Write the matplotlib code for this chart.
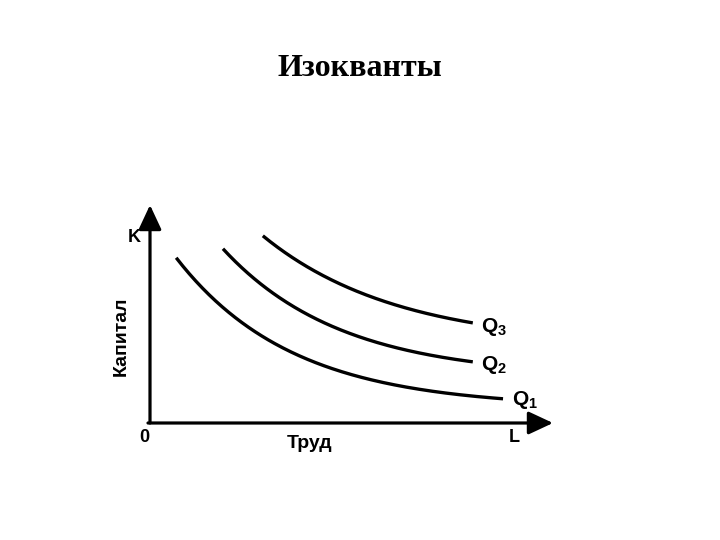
import matplotlib
matplotlib.use("Agg")
import matplotlib.pyplot as plt
import numpy as np

plt.rcParams['mathtext.fontset'] = 'custom'
plt.rcParams['mathtext.rm'] = 'Liberation Sans:bold'
plt.rcParams['mathtext.bf'] = 'Liberation Sans:bold'

title = "Изокванты"
y_label = "Капитал"
x_label = "Труд"
curve_labels = ["Q$_1$", "Q$_2$", "Q$_3$"]

q1_x = [0.65, 1.74, 2.98, 3.72, 4.96, 6.20, 7.44, 8.76]
q1_y = [7.61, 5.32, 3.81, 3.12, 2.29, 1.61, 1.28, 1.19]
q2_x = [1.81, 2.98, 4.22, 6.20, 8.01]
q2_y = [7.98, 6.10, 4.63, 3.44, 2.80]
q3_x = [2.80, 3.72, 4.96, 6.20, 8.01]
q3_y = [8.58, 7.39, 6.15, 5.37, 4.59]


def smooth(xs, ys, n=200):
    # smooth convex rendering through the read points:
    # best least-squares of y = a + b/(x + c) or y = a + b*exp(-x/c)
    x = np.asarray(xs, float)
    y = np.asarray(ys, float)
    bases = [lambda t, c: 1.0 / (t + c), lambda t, c: np.exp(-t / c)]
    ranges = [np.linspace(-x[0] + 0.05, 15, 2000), np.linspace(0.3, 20, 2000)]
    best = None
    for f, cs in zip(bases, ranges):
        for c in cs:
            A = np.column_stack([np.ones_like(x), f(x, c)])
            coef, *_ = np.linalg.lstsq(A, y, rcond=None)
            err = np.sum((A @ coef - y) ** 2)
            if best is None or err < best[0]:
                best = (err, f, c, coef)
    _, f, c, (a, b) = best
    gx = np.linspace(x[0], x[-1], n)
    return gx, a + b * f(gx, c)


W, H = 720, 540
fig = plt.figure(figsize=(7.2, 5.4), dpi=100)
ax = fig.add_axes([150 / W, (H - 423) / H, (553 - 150) / W, (423 - 205) / H])
ax.set_xlim(0, 10)
ax.set_ylim(0, 10)
ax.axis('off')

arrow = dict(arrowstyle='-|>,head_length=0.6,head_width=0.28', lw=2.3, color='black',
             mutation_scale=25, shrinkA=0, shrinkB=0)
ax.annotate('', xy=(0, 10), xytext=(0, 0), arrowprops=arrow, annotation_clip=False)
ax.annotate('', xy=(10, 0), xytext=(-0.05, 0), arrowprops=arrow, annotation_clip=False)

for xs, ys in [(q1_x, q1_y), (q2_x, q2_y), (q3_x, q3_y)]:
    sx, sy = smooth(xs, ys)
    ax.plot(sx, sy, color='black', lw=2.4, solid_capstyle='butt', clip_on=False)

sans = dict(family='Liberation Sans', weight='bold', color='black')


def ft(x, y, s, **kw):
    fig.text(x / W, 1 - y / H, s, **kw)


ft(360, 68, title, family='Liberation Serif', weight='bold', fontsize=23, ha='center', va='center')
ft(134, 238, "K", fontsize=13, ha='center', va='center', **sans)
ft(121, 336, y_label, fontsize=14, rotation=90, ha='center', va='center', **sans)
ft(144, 438, "0", fontsize=13, ha='center', va='center', **sans)
ft(310, 444, x_label, fontsize=14, ha='center', va='center', **sans)
ft(514, 438, "L", fontsize=13, ha='center', va='center', **sans)

label_pos = [(512, 400), (481, 365), (481, 327)]
for (lx, ly), s in zip(label_pos, curve_labels):
    ft(lx, ly, s, fontsize=15, ha='left', va='center', **sans)

fig.savefig("out.png", dpi=100, facecolor='white')
